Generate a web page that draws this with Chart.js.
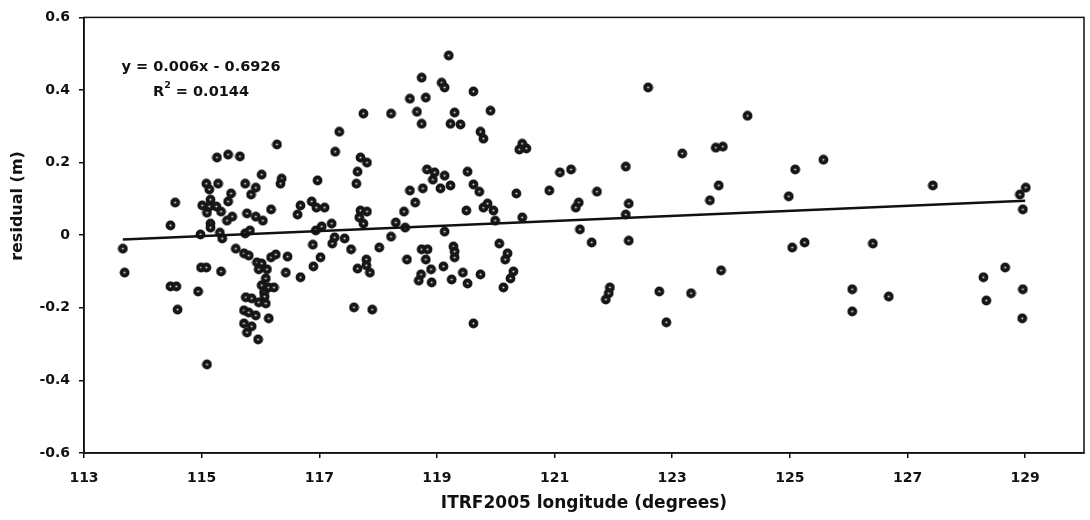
<!DOCTYPE html>
<html>
<head>
<meta charset="utf-8">
<script src="https://cdn.jsdelivr.net/npm/chart.js@4.4.1/dist/chart.umd.min.js"></script>
<style>
  html, body { margin: 0; padding: 0; background: #fff; overflow: hidden; }
  canvas { display: block; }
</style>
</head>
<body>
<canvas id="residual-chart" width="1090" height="520"></canvas>
<script>
// station longitude (degrees) and residual (m)
const longitude = [
  113.66, 113.69, 114.47, 114.55, 114.47, 114.57, 114.94, 114.59, 115.09, 115.26,
  114.98, 114.99, 115.08, 115.33, 115.08, 115.13, 115.28, 115.15, 115.01, 115.13,
  115.25, 115.09, 115.33, 115.15, 115.15, 115.31, 115.35, 116.02, 116.36, 116.34,
  115.74, 115.92, 115.84, 115.50, 115.45, 116.18, 116.68, 116.63, 115.52, 115.43,
  115.77, 115.92, 116.04, 115.74, 115.82, 115.58, 115.72, 115.80, 116.18, 116.26,
  116.46, 115.94, 116.02, 115.97, 116.11, 116.43, 116.68, 116.28, 115.45, 115.65,
  116.97, 116.09, 116.02, 116.14, 116.23, 116.06, 116.07, 115.75, 115.85, 115.97,
  116.09, 115.72, 115.80, 115.92, 116.14, 115.72, 115.85, 115.77, 115.96, 117.09,
  116.87, 116.95, 117.04, 117.21, 116.94, 117.26, 116.89, 117.22, 117.02, 116.90,
  117.34, 117.27, 117.70, 117.81, 117.65, 117.63, 117.75, 118.22, 117.70, 117.81,
  117.68, 117.75, 117.43, 117.54, 118.02, 117.80, 117.80, 117.65, 117.86, 118.22,
  118.30, 118.44, 118.46, 118.49, 118.54, 118.63, 118.54, 118.81, 118.74, 118.66,
  118.74, 118.83, 118.96, 118.93, 118.76, 118.74, 118.84, 118.81, 118.90, 118.73,
  118.69, 118.91, 117.59, 117.90, 119.20, 119.08, 119.13, 119.30, 119.23, 119.13,
  119.06, 119.23, 119.13, 119.11, 119.28, 119.30, 119.25, 119.62, 119.91, 119.40,
  119.74, 119.79, 120.45, 120.40, 120.52, 121.09, 121.28, 119.52, 119.62, 119.72,
  120.35, 120.91, 121.72, 121.41, 121.36, 119.50, 119.79, 119.86, 119.96, 119.99,
  120.45, 121.43, 121.63, 119.30, 120.06, 120.20, 120.16, 119.44, 119.52, 119.74,
  120.30, 120.25, 120.13, 121.94, 121.92, 121.87, 119.62, 122.59, 124.28, 123.17,
  123.74, 123.86, 122.21, 125.09, 125.57, 123.79, 123.64, 124.98, 122.26, 122.21,
  122.26, 125.04, 125.25, 123.83, 122.78, 123.32, 122.90, 127.43, 129.01, 128.91,
  128.96, 126.41, 128.66, 128.29, 126.06, 126.68, 128.96, 128.34, 126.06, 128.95
];

const residual = [
  -0.037, -0.103, 0.027, 0.090, -0.141, -0.141, -0.155, -0.205, -0.356, 0.214,
  0.002, -0.089, -0.089, -0.100, 0.142, 0.126, 0.142, 0.098, 0.082, 0.079,
  0.079, 0.062, 0.065, 0.032, 0.021, 0.007, -0.009, 0.167, 0.156, 0.142,
  0.142, 0.131, 0.112, 0.115, 0.093, 0.071, 0.082, 0.057, 0.051, 0.040,
  0.060, 0.051, 0.040, 0.005, 0.013, -0.037, -0.050, -0.056, -0.061, -0.053,
  -0.059, -0.075, -0.078, -0.094, -0.094, -0.103, -0.116, 0.250, 0.222, 0.217,
  0.151, -0.119, -0.138, -0.144, -0.144, -0.158, -0.169, -0.171, -0.174, -0.185,
  -0.188, -0.207, -0.213, -0.221, -0.229, -0.243, -0.251, -0.268, -0.287, 0.076,
  0.093, 0.076, 0.024, 0.032, 0.013, -0.006, -0.026, -0.023, -0.061, -0.086,
  0.285, 0.230, 0.214, 0.200, 0.175, 0.142, 0.335, 0.335, 0.068, 0.065,
  0.049, 0.032, -0.009, -0.039, -0.034, -0.067, -0.083, -0.092, -0.103, -0.004,
  0.035, 0.065, 0.021, -0.067, 0.123, 0.090, 0.376, 0.379, 0.434, 0.340,
  0.307, 0.181, 0.173, 0.153, 0.129, -0.039, -0.039, -0.067, -0.094, -0.108,
  -0.125, -0.130, -0.199, -0.205, 0.495, 0.420, 0.407, 0.338, 0.307, 0.164,
  0.129, 0.137, 0.010, -0.086, -0.031, -0.061, -0.122, 0.396, 0.343, 0.305,
  0.285, 0.266, 0.252, 0.236, 0.239, 0.173, 0.181, 0.175, 0.140, 0.120,
  0.115, 0.123, 0.120, 0.090, 0.076, 0.068, 0.076, 0.087, 0.068, 0.040,
  0.049, 0.016, -0.020, -0.045, -0.023, -0.050, -0.067, -0.103, -0.133, -0.108,
  -0.100, -0.119, -0.144, -0.144, -0.160, -0.177, -0.243, 0.407, 0.329, 0.225,
  0.241, 0.244, 0.189, 0.181, 0.208, 0.137, 0.096, 0.107, 0.087, 0.057,
  -0.015, -0.034, -0.020, -0.097, -0.155, -0.160, -0.240, 0.137, 0.131, 0.112,
  0.071, -0.023, -0.089, -0.116, -0.149, -0.169, -0.149, -0.180, -0.210, -0.229
];

// linear trendline as drawn (end points)
const trendLon = [113.66, 129.0];
const trendRes = [-0.012, 0.095];

const xTickValues = [113, 115, 117, 119, 121, 123, 125, 127, 129];
const yTickValues = [-0.6, -0.4, -0.2, 0, 0.2, 0.4, 0.6];
const yTickLabels = ['-0.6', '-0.4', '-0.2', '0', '0.2', '0.4', '0.6'];

const equationText = 'y = 0.006x - 0.6926';
const rSquaredText = ' = 0.0144';
const yTitle = 'residual (m)';

const FONT = 'DejaVu Sans';
const INK = '#111';

// scanned-looking marker: dark disc with a small light speck
function makeMarker() {
  const c = document.createElement('canvas');
  c.width = 11;
  c.height = 11;
  const g = c.getContext('2d');
  g.fillStyle = '#161616';
  g.beginPath();
  g.arc(5.5, 5.5, 4.9, 0, Math.PI * 2);
  g.fill();
  g.fillStyle = '#cfcfcf';
  g.beginPath();
  g.arc(5.5, 5.5, 1.1, 0, Math.PI * 2);
  g.fill();
  return c;
}

const frameAndLabel = {
  id: 'frameAndLabel',
  afterDraw(chart) {
    const { ctx, chartArea } = chart;
    ctx.save();
    ctx.strokeStyle = INK;
    ctx.lineWidth = 1.5;
    ctx.strokeRect(chartArea.left, chartArea.top, chartArea.right - chartArea.left, chartArea.bottom - chartArea.top);

    ctx.fillStyle = INK;
    ctx.textBaseline = 'middle';

    // y axis title
    ctx.save();
    ctx.translate(18, 206);
    ctx.rotate(-Math.PI / 2);
    ctx.textAlign = 'center';
    ctx.font = 'bold 16px "' + FONT + '"';
    ctx.fillText(yTitle, 0, 0);
    ctx.restore();

    // trendline equation
    const cx = 201;
    ctx.textAlign = 'center';
    ctx.font = 'bold 14.5px "' + FONT + '"';
    ctx.fillText(equationText, cx, 67);

    const rW = ctx.measureText('R').width;
    const restW = ctx.measureText(rSquaredText).width;
    ctx.font = 'bold 9.5px "' + FONT + '"';
    const supW = ctx.measureText('2').width;
    let x = cx - (rW + supW + restW) / 2;
    ctx.textAlign = 'left';
    ctx.font = 'bold 14.5px "' + FONT + '"';
    ctx.fillText('R', x, 92);
    x += rW;
    ctx.font = 'bold 9.5px "' + FONT + '"';
    ctx.fillText('2', x, 86);
    x += supW;
    ctx.font = 'bold 14.5px "' + FONT + '"';
    ctx.fillText(rSquaredText, x, 92);
    ctx.restore();
  }
};

new Chart(document.getElementById('residual-chart'), {
  type: 'scatter',
  data: {
    datasets: [
      {
        type: 'line',
        label: 'trend',
        data: trendLon.map((lon, i) => ({ x: lon, y: trendRes[i] })),
        borderColor: INK,
        borderWidth: 2.5,
        pointRadius: 0,
        fill: false,
        order: 0,
      },
      {
        label: 'residual',
        data: longitude.map((lon, i) => ({ x: lon, y: residual[i] })),
        pointStyle: makeMarker(),
        pointRadius: 5,
        order: 1,
      },
    ],
  },
  options: {
    responsive: false,
    animation: false,
    devicePixelRatio: 1,
    layout: { padding: { top: 15, right: 1, left: 0, bottom: 0 } },
    plugins: {
      legend: { display: false },
      tooltip: { enabled: false },
    },
    scales: {
      x: {
        type: 'linear',
        min: 113,
        max: 130,
        afterBuildTicks: (scale) => {
          scale.ticks = xTickValues.map((v) => ({ value: v }));
        },
        afterFit: (scale) => {
          scale.height = 67;
          scale.paddingLeft = 0;
          scale.paddingRight = 0;
        },
        grid: { drawOnChartArea: false, drawTicks: true, tickLength: 5, color: INK, lineWidth: 1.5 },
        border: { color: INK, width: 1.5 },
        ticks: {
          color: INK,
          padding: 12,
          maxRotation: 0,
          font: { family: FONT, size: 14, weight: 'bold' },
          callback: (value) => String(value),
        },
        title: {
          display: true,
          text: 'ITRF2005 longitude (degrees)',
          color: INK,
          font: { family: FONT, size: 17, weight: 'bold' },
          padding: { top: 0, bottom: 6 },
        },
      },
      y: {
        type: 'linear',
        min: -0.6,
        max: 0.6,
        afterBuildTicks: (scale) => {
          scale.ticks = yTickValues.map((v) => ({ value: v }));
        },
        afterFit: (scale) => {
          scale.width = 84;
        },
        grid: { drawOnChartArea: false, drawTicks: true, tickLength: 5, color: INK, lineWidth: 1.5 },
        border: { color: INK, width: 1.5 },
        ticks: {
          color: INK,
          padding: 9,
          font: { family: FONT, size: 14, weight: 'bold' },
          callback: (value, index) => yTickLabels[index],
        },
      },
    },
  },
  plugins: [frameAndLabel],
});
</script>
</body>
</html>
